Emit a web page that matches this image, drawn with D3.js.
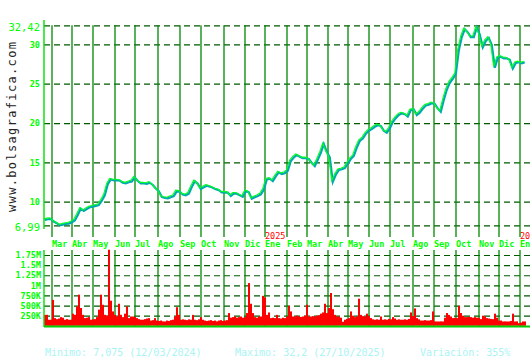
<!DOCTYPE html>
<html>
<head>
<meta charset="utf-8">
<script src="https://cdnjs.cloudflare.com/ajax/libs/d3/7.8.5/d3.min.js"></script>
<style>
  body { margin: 0; background: #fff; }
  svg { display: block; }
</style>
</head>
<body>
<svg width="530" height="360"></svg>
<script>
const monthNames = ['Ene', 'Feb', 'Mar', 'Abr', 'May', 'Jun', 'Jul', 'Ago', 'Sep', 'Oct', 'Nov', 'Dic'];
const holidays = ['2024-03-29', '2024-04-01', '2024-05-01', '2024-12-25', '2024-12-26',
  '2025-01-01', '2025-04-18', '2025-04-21', '2025-05-01', '2025-12-25', '2025-12-26', '2026-01-01'];

// one close every 3 trading days, starting 20/02/2024
const priceStep = 3;
const prices = [
  7.75, 7.85, 7.9, 7.55, 7.35, 7.08, 7.15, 7.25, 7.3, 7.45,
  7.7, 8.4, 9.2, 8.9, 9.15, 9.37, 9.45, 9.55, 9.65, 10.2,
  10.9, 12.3, 12.9, 12.8, 12.8, 12.75, 12.5, 12.4, 12.55, 12.65,
  13.15, 12.7, 12.4, 12.4, 12.35, 12.5, 12.2, 11.75, 11.4, 10.7,
  10.56, 10.5, 10.65, 10.8, 11.4, 11.35, 11.0, 10.9, 11.1, 11.95,
  12.67, 12.35, 11.7, 11.9, 12.1, 12.0, 11.85, 11.65, 11.55, 11.27,
  11.22, 11.22, 10.8, 11.1, 11.1, 10.9, 10.7, 11.4, 11.3, 10.45,
  10.64, 10.8, 11.0, 11.6, 12.9, 13.0, 12.7, 13.3, 13.8, 13.6,
  13.7, 14.0, 15.25, 15.7, 16.0, 15.8, 15.6, 15.6, 15.5, 15.0,
  14.6, 15.4, 16.3, 17.4, 16.4, 15.7, 12.6, 13.5, 14.1, 14.2,
  14.35, 14.9, 15.5, 15.9, 16.95, 17.8, 18.1, 18.7, 19.1, 19.3,
  19.6, 19.8, 19.7, 19.1, 18.85, 19.4, 20.2, 20.7, 21.1, 21.3,
  21.2, 20.9, 21.7, 21.8, 21.1, 21.4, 21.9, 22.3, 22.4, 22.6,
  22.5, 21.9, 21.5, 23.0, 24.3, 25.2, 25.7, 26.3, 29.3, 31.0,
  32.0, 31.6, 31.0, 31.0, 32.2, 31.3, 29.7, 30.5, 30.9, 30.0,
  27.1, 28.35, 28.5, 28.3, 28.3, 28.1, 27.0, 27.7, 27.8, 27.65,
  27.8
];

// volume in thousands, one value every 2 trading days
const volumeStep = 2;
const volumes = [
  270, 272, 150, 150, 640, 190, 165, 180, 215, 200,
  150, 165, 150, 150, 300, 272, 480, 770, 440, 272,
  190, 200, 215, 150, 160, 165, 215, 400, 770, 520,
  272, 250, 1880, 620, 355, 272, 230, 545, 272, 215,
  300, 480, 190, 230, 230, 215, 190, 165, 150, 150,
  165, 180, 190, 130, 140, 190, 130, 120, 130, 110,
  107, 130, 120, 140, 150, 230, 460, 270, 150, 160,
  150, 140, 160, 150, 270, 150, 140, 160, 215, 150,
  130, 120, 130, 140, 120, 130, 110, 130, 140, 120,
  130, 140, 315, 200, 215, 230, 200, 215, 230, 200,
  215, 315, 1056, 545, 315, 215, 200, 230, 230, 740,
  700, 270, 330, 190, 200, 190, 270, 190, 180, 200,
  190, 230, 495, 355, 230, 230, 250, 230, 220, 230,
  250, 520, 230, 230, 240, 230, 250, 260, 300, 330,
  545, 315, 440, 810, 410, 270, 230, 230, 200, 100,
  150, 170, 190, 355, 250, 215, 230, 670, 270, 240,
  230, 300, 240, 190, 160, 150, 160, 150, 230, 150,
  160, 150, 170, 160, 215, 180, 150, 160, 150, 150,
  160, 150, 170, 330, 240, 430, 190, 160, 130, 130,
  140, 130, 130, 140, 355, 110, 107, 107, 110, 107,
  200, 315, 270, 230, 190, 200, 190, 495, 315, 250,
  215, 215, 220, 215, 200, 215, 200, 200, 165, 250,
  230, 190, 180, 170, 165, 300, 200, 130, 130, 107,
  110, 107, 107, 120, 300, 107, 110, 66, 80, 107,
  107
];

const priceTicks = [32.42, 30, 25, 20, 15, 10, 6.99];
const priceTickLabels = ['32,42', '30', '25', '20', '15', '10', '6,99'];
const volumeTicks = [1750, 1500, 1250, 1000, 750, 500, 250];
const volumeTickLabels = ['1.75M', '1.5M', '1.25M', '1M', '750K', '500K', '250K'];
const footer = [
  { text: 'Minimo: 7,075 (12/03/2024)', x: 45 },
  { text: 'Maximo: 32,2 (27/10/2025)', x: 235 },
  { text: 'Variación: 355%', x: 420 }
];

const mono = '"DejaVu Sans Mono", monospace';
const svg = d3.select('svg');
const width = +svg.attr('width');
const left = 44;

// trading calendar
const fmt = d3.timeFormat('%Y-%m-%d');
const days = [];
for (let d = new Date(2024, 1, 20); days.length < 485; d = d3.timeDay.offset(d, 1)) {
  const wd = d.getDay();
  if (wd === 0 || wd === 6 || holidays.includes(fmt(d))) continue;
  days.push(d);
}
const monthStarts = days
  .map((d, i) => ({ d, i }))
  .filter(({ d, i }) => i > 0 && d.getMonth() !== days[i - 1].getMonth());

const xScale = d3.scaleLinear().domain([0, 484]).range([left, 528]);
const yPrice = d3.scaleLinear().domain([6.99, 32.42]).range([225.4, 25.3]);
const yVol = d3.scaleLinear().domain([0, 1750]).range([325.8, 255]);

// horizontal dashed grids with labels
const priceAxisG = svg.append('g').attr('transform', `translate(${left},0)`)
  .call(d3.axisLeft(yPrice).tickValues(priceTicks)
    .tickFormat((d, i) => priceTickLabels[i])
    .tickSize(-(width - left)).tickPadding(4));
const volAxisG = svg.append('g').attr('transform', `translate(${left},0)`)
  .call(d3.axisLeft(yVol).tickValues(volumeTicks)
    .tickFormat((d, i) => volumeTickLabels[i])
    .tickSize(-(width - left)).tickPadding(3));

[priceAxisG, volAxisG].forEach(g => {
  g.select('.domain').remove();
  g.selectAll('.tick line')
    .attr('stroke', '#005a00')
    .attr('stroke-width', 1.2)
    .attr('stroke-dasharray', '6,4');
  g.selectAll('.tick text')
    .attr('fill', '#00ff00')
    .attr('font-family', mono)
    .attr('font-weight', 'bold')
    .attr('font-size', 8.5);
});
priceAxisG.selectAll('.tick text')
  .filter((d, i) => i === 0 || i === priceTicks.length - 1)
  .attr('font-weight', 'normal')
  .attr('font-size', 10.5)
  .attr('dy', '0.45em');

// month lines
svg.append('g').selectAll('line').data(monthStarts).enter().append('line')
  .attr('x1', d => xScale(d.i)).attr('x2', d => xScale(d.i))
  .attr('y1', yPrice(32.42)).attr('y2', 237)
  .attr('stroke', '#008800').attr('stroke-width', 1.3);
svg.append('g').selectAll('line').data(monthStarts).enter().append('line')
  .attr('x1', d => xScale(d.i)).attr('x2', d => xScale(d.i))
  .attr('y1', 250).attr('y2', yVol(0))
  .attr('stroke', '#008800').attr('stroke-width', 1.3);

// month and year labels
svg.append('g').selectAll('text').data(monthStarts).enter().append('text')
  .attr('x', d => xScale(d.i))
  .attr('y', 247)
  .attr('fill', '#00ff00')
  .attr('font-family', mono)
  .attr('font-weight', 'bold')
  .attr('font-size', 8.5)
  .text(d => monthNames[d.d.getMonth()]);
svg.append('g').selectAll('text').data(monthStarts.filter(m => m.d.getMonth() === 0)).enter().append('text')
  .attr('x', d => xScale(d.i))
  .attr('y', 238.5)
  .attr('fill', '#ff0000')
  .attr('font-family', mono)
  .attr('font-size', 8.5)
  .text(d => d.d.getFullYear());

// volume bars
const barW = xScale(volumeStep) - xScale(0);
svg.append('g').selectAll('rect').data(volumes).enter().append('rect')
  .attr('x', (d, k) => xScale(k * volumeStep))
  .attr('y', d => yVol(d))
  .attr('width', barW)
  .attr('height', d => yVol(0) - yVol(d))
  .attr('fill', '#ff0000');

// price lines
const priceLine = d3.line()
  .x((d, k) => xScale(k * priceStep))
  .y(d => yPrice(d));
svg.append('path').datum(prices)
  .attr('d', priceLine)
  .attr('fill', 'none')
  .attr('stroke', '#00a8b0')
  .attr('stroke-width', 2.2)
  .attr('transform', 'translate(0.8,0.6)');
svg.append('path').datum(prices)
  .attr('d', priceLine)
  .attr('fill', 'none')
  .attr('stroke', '#00ff20')
  .attr('stroke-width', 1.1)
  .attr('transform', 'translate(-0.3,-0.5)');

// axis lines
svg.append('line').attr('x1', left).attr('x2', left).attr('y1', 20).attr('y2', 229)
  .attr('stroke', '#00e000').attr('stroke-width', 1.4);
svg.append('line').attr('x1', left).attr('x2', left).attr('y1', 250).attr('y2', 327)
  .attr('stroke', '#00e000').attr('stroke-width', 1.4);
svg.append('line').attr('x1', left).attr('x2', width).attr('y1', 326.5).attr('y2', 326.5)
  .attr('stroke', '#00cc00').attr('stroke-width', 2);

// watermark
svg.append('text')
  .attr('transform', 'translate(16,127) rotate(-90)')
  .attr('text-anchor', 'middle')
  .attr('font-family', mono)
  .attr('font-size', 12)
  .attr('fill', '#222')
  .attr('textLength', 170)
  .attr('lengthAdjust', 'spacing')
  .text('www.bolsagrafica.com');

// footer
svg.append('g').selectAll('text').data(footer).enter().append('text')
  .attr('x', d => d.x)
  .attr('y', 356)
  .attr('fill', '#aaf4f4')
  .attr('font-family', mono)
  .attr('font-size', 10)
  .text(d => d.text);
</script>
</body>
</html>
